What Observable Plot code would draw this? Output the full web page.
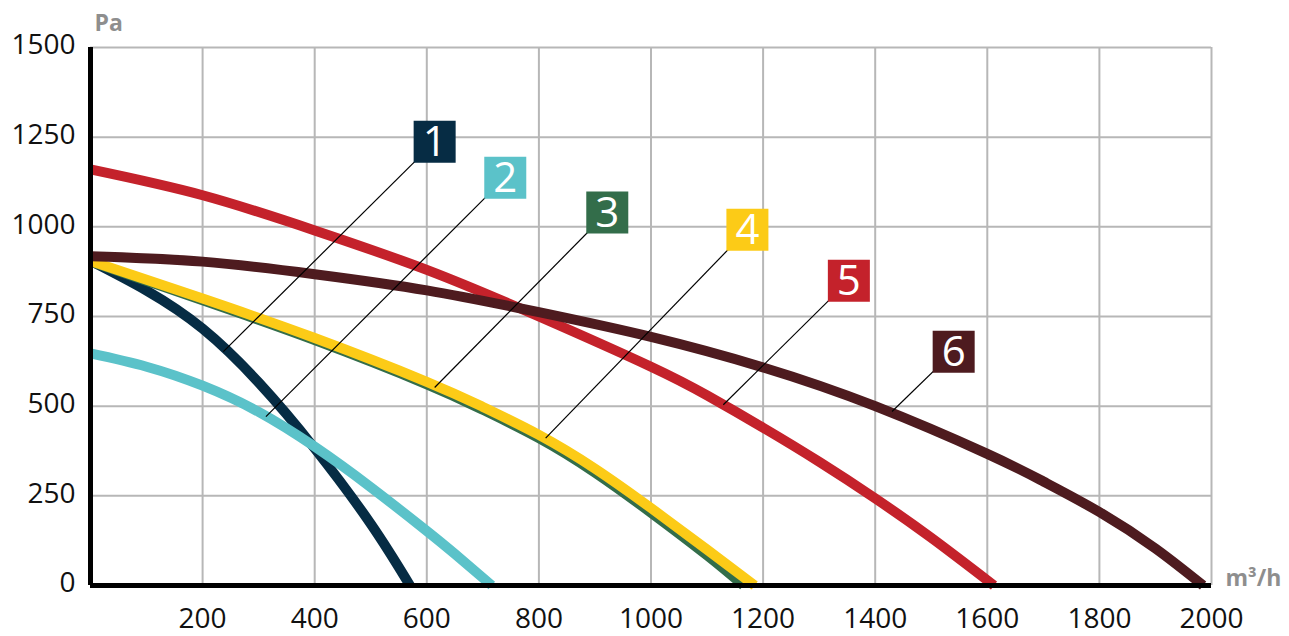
<!DOCTYPE html>
<html><head><meta charset="utf-8">
<script src="https://cdn.jsdelivr.net/npm/d3@7"></script>
<script src="https://cdn.jsdelivr.net/npm/@observablehq/plot@0.6"></script>
<style>html,body{margin:0;padding:0;background:#fff}</style>
</head><body><div id="chart"></div>
<script>
const seriesNames = ["1","2","3","4","5","6"];
const seriesColors = ["#062c44","#5bc2c9","#336d4a","#fccb17","#c4222b","#4e1b1f"];

const flow1 = [0, 100, 200, 300, 400, 500, 570];
const pressure1 = [905, 822, 716, 566, 382, 172, 0];
const flow2 = [0, 100, 200, 300, 400, 500, 600, 650, 716];
const pressure2 = [647, 610, 557, 484, 387, 274, 152, 88, 0];
const flow3 = [0, 200, 400, 600, 700, 800, 900, 1000, 1100, 1165];
const pressure3 = [903, 795, 684, 561, 490, 411, 315, 203, 84, 0];
const flow4 = [0, 200, 400, 600, 700, 800, 900, 1000, 1100, 1185];
const pressure4 = [905, 800, 690, 568, 498, 420, 326, 216, 100, 0];
const flow5 = [0, 200, 400, 600, 800, 1000, 1100, 1200, 1300, 1400, 1500, 1612];
const pressure5 = [1160, 1088, 990, 880, 750, 610, 530, 440, 345, 243, 133, 0];
const flow6 = [0, 200, 400, 600, 800, 1000, 1200, 1400, 1600, 1700, 1800, 1900, 1985];
const pressure6 = [918, 903, 868, 823, 762, 693, 608, 500, 367, 290, 205, 103, 0];

const xTicks = [200, 400, 600, 800, 1000, 1200, 1400, 1600, 1800, 2000];
const yTicks = [0, 250, 500, 750, 1000, 1250, 1500];

const leaderFlow = [237, 313, 614, 812, 1129, 1430];
const leaderPressure = [652, 471, 552, 411, 504, 485];
const boxFlow = [614, 740, 922, 1172, 1353, 1540];
const boxPressure = [1237, 1137, 1040, 992, 850, 652];

const yUnit = "Pa";
const xUnit = "m³/h";

const flows = [flow1, flow2, flow3, flow4, flow5, flow6];
const pressures = [pressure1, pressure2, pressure3, pressure4, pressure5, pressure6];
const rows = [];
seriesNames.forEach((s, i) => flows[i].forEach((f, j) => rows.push({series: s, flow: f, pressure: pressures[i][j]})));
const labels = seriesNames.map((s, i) => ({
  series: s, lx: leaderFlow[i], ly: leaderPressure[i], bx: boxFlow[i], by: boxPressure[i]
}));

const font = "'Open Sans', sans-serif";
const fmt = d => String(d);
const chart = Plot.plot({
  width: 1289, height: 636,
  marginLeft: 90, marginRight: 78, marginTop: 47, marginBottom: 51,
  style: {fontFamily: font, fontSize: "28px", background: "#fff", color: "#111"},
  x: {domain: [0, 2000]},
  y: {domain: [0, 1500]},
  color: {domain: seriesNames, range: seriesColors},
  marks: [
    Plot.gridX(xTicks, {stroke: "#b7b7b7", strokeOpacity: 1, strokeWidth: 2}),
    Plot.gridY(yTicks, {stroke: "#b7b7b7", strokeOpacity: 1, strokeWidth: 2}),
    Plot.line(rows, {x: "flow", y: "pressure", z: "series", stroke: "series", strokeWidth: 10,
      curve: "natural", strokeLinecap: "butt"}),
    Plot.link(labels, {x1: "lx", y1: "ly", x2: "bx", y2: "by", stroke: "#000", strokeWidth: 1.2}),
    Plot.ruleX([0], {stroke: "#000", strokeWidth: 5}),
    Plot.ruleY([0], {stroke: "#000", strokeWidth: 5}),
    Plot.axisX(xTicks, {tickSize: 0, tickPadding: 23, fontSize: 28, fontFamily: font, label: null, fill: "#111", tickFormat: fmt}),
    Plot.axisY(yTicks, {tickSize: 0, tickPadding: 15, fontSize: 28, fontFamily: font, label: null, dy: -2, fill: "#111", tickFormat: fmt}),
    Plot.dot(labels, {x: "bx", y: "by", symbol: "square", r: 23.7, fill: "series", stroke: null}),
    Plot.text(labels, {x: "bx", y: "by", text: "series", fill: "#fff", fontSize: 42, fontFamily: font, dy: 1}),
    Plot.text([yUnit], {frameAnchor: "top-left", text: d => d, dx: 4, dy: -17, lineAnchor: "bottom",
      textAnchor: "start", fontSize: 23, fontWeight: 700, fill: "#8e8e8e", fontFamily: font}),
    Plot.text([xUnit], {frameAnchor: "bottom-right", text: d => d, dx: 14, dy: 0, lineAnchor: "bottom",
      textAnchor: "start", fontSize: 23, fontWeight: 700, fill: "#8e8e8e", fontFamily: font, letterSpacing: 1.5})
  ]
});
document.getElementById("chart").append(chart);
</script>
</body></html>
